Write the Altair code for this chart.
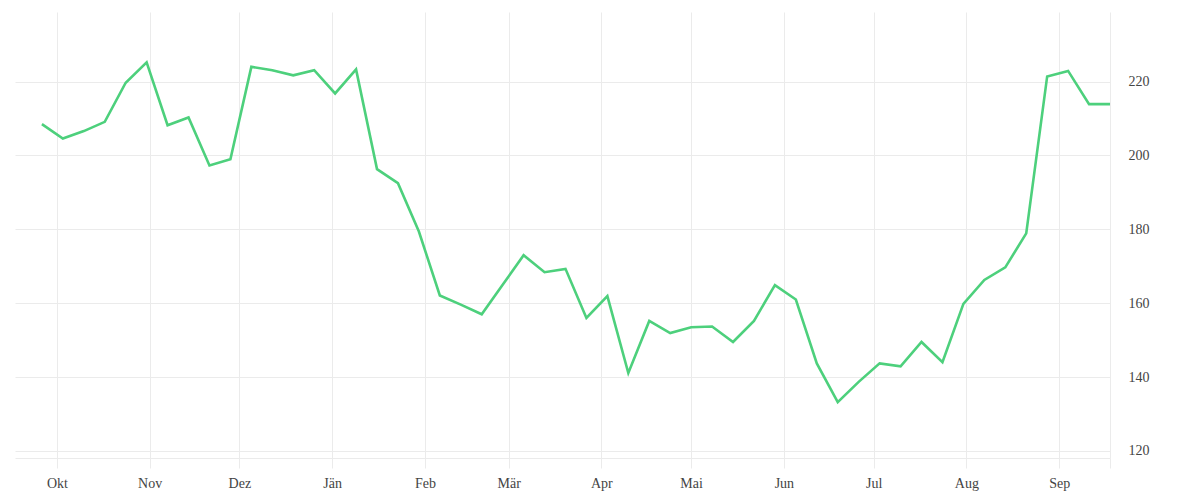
import altair as alt
import pandas as pd

start_date = "2020-09-26"
n_weeks = 52
values = [
    208.5, 204.6, 206.6, 209.1, 219.7, 225.2, 208.2, 210.3, 197.3, 199.0,
    224.0, 223.1, 221.7, 223.1, 216.8, 223.3, 196.3, 192.5, 179.4, 162.1,
    159.6, 157.0, 165.0, 173.0, 168.4, 169.3, 156.0, 161.9, 141.1, 155.2,
    151.9, 153.5, 153.7, 149.5, 155.2, 164.9, 161.0, 143.7, 133.2, 138.7,
    143.7, 142.9, 149.5, 144.0, 159.8, 166.3, 169.7, 178.9, 221.4, 222.9,
    213.9, 213.9,
]
month_labels = ["Jän", "Feb", "Mär", "Apr", "Mai", "Jun", "Jul", "Aug", "Sep", "Okt", "Nov", "Dez"]
x_ticks = ["2020-10-01", "2020-11-01", "2020-12-01", "2021-01-01", "2021-02-01", "2021-03-01",
           "2021-04-01", "2021-05-01", "2021-06-01", "2021-07-01", "2021-08-01", "2021-09-01",
           "2021-09-18"]
y_ticks = [120, 140, 160, 180, 200, 220]

dates = pd.date_range(start_date, periods=n_weeks, freq="7D")
df = pd.DataFrame({"date": dates.strftime("%Y-%m-%dT00:00:00"), "value": values})

x_tick_dt = [alt.DateTime(year=int(d[:4]), month=int(d[5:7]), date=int(d[8:10])) for d in x_ticks]
names_js = "[" + ",".join("'" + m + "'" for m in month_labels) + "]"
label_expr = f"date(datum.value) == 1 ? {names_js}[month(datum.value)] : ''"

grid_col = "#ebebeb"
font = "Liberation Serif"

chart = alt.Chart(df).mark_line(color="#4dd07c", strokeWidth=2.6, strokeJoin="miter").encode(
    x=alt.X(
        "date:T",
        scale=alt.Scale(domain=[alt.DateTime(year=2020, month=9, date=17),
                                alt.DateTime(year=2021, month=9, date=18)]),
        axis=alt.Axis(
            title=None, values=x_tick_dt, labelExpr=label_expr,
            grid=True, gridColor=grid_col, tickColor=grid_col, tickSize=10,
            domainColor=grid_col, labelFont=font, labelFontSize=14,
            labelColor="#444444", labelPadding=8,
        ),
    ),
    y=alt.Y(
        "value:Q",
        scale=alt.Scale(domain=[118.08, 238.85], nice=False, zero=False),
        axis=alt.Axis(
            title=None, orient="right", values=y_ticks, grid=True, gridColor=grid_col,
            ticks=False, domain=False, labelFont=font, labelFontSize=14,
            labelColor="#444444", labelPadding=18,
        ),
    ),
).properties(
    width=1095, height=446,
    padding={"left": 7, "top": 4, "right": 5, "bottom": 5},
).configure_view(stroke=None)

chart.save("out.html", embed_options={"renderer": "svg", "actions": False})
